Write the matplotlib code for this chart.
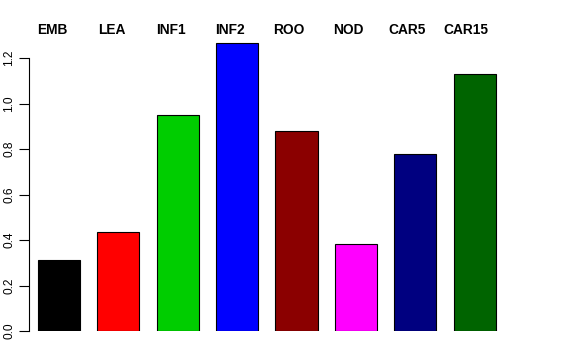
import matplotlib
matplotlib.use("Agg")
import matplotlib.pyplot as plt
import numpy as np

categories = ["EMB", "LEA", "INF1", "INF2", "ROO", "NOD", "CAR5", "CAR15"]
values = [0.312, 0.433, 0.948, 1.264, 0.880, 0.382, 0.776, 1.130]
colors = ["#000000", "#FF0000", "#00CD00", "#0000FF", "#8B0000", "#FF00FF", "#000080", "#006400"]
yticks = [0.0, 0.2, 0.4, 0.6, 0.8, 1.0, 1.2]

plt.rcParams['font.family'] = ['Liberation Sans', 'DejaVu Sans']

fig = plt.figure(figsize=(5.76, 3.6), dpi=100)
ax = fig.add_axes([0, 29/360, 1, 331/360])

x = np.arange(len(categories))
ax.bar(x, values, width=0.71, color=colors, edgecolor="black", linewidth=0.8)

ax.set_xlim(-0.993, 8.704)
ax.set_ylim(0, 1.455)

for s in ["top", "right", "bottom"]:
    ax.spines[s].set_visible(False)
ax.spines["left"].set_position(("data", -0.505))
ax.spines["left"].set_bounds(0, 1.2)
ax.spines["left"].set_linewidth(0.8)
ax.set_xticks([])
ax.set_yticks(yticks)
ax.set_yticklabels([f"{v:.1f}" for v in yticks], rotation=90, va="center", fontsize=8.6)
ax.tick_params(axis="y", length=7, width=0.8, pad=3)

for i, c in enumerate(categories):
    ax.text(i - 0.11 - 0.005 * i, 1.323, c, ha="center", va="center",
            fontsize=9.9, fontweight="bold")

fig.savefig("out.png", dpi=100)
